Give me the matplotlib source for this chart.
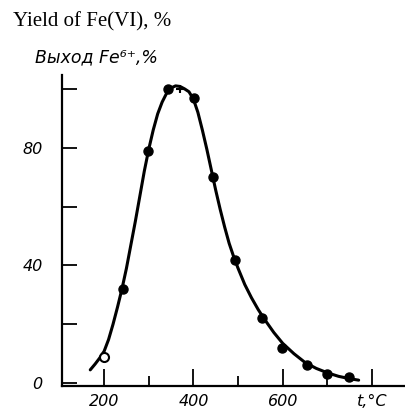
import matplotlib
matplotlib.use('Agg')
from matplotlib import pyplot as plt

# measured points (temperature, yield %)
t_filled = [242, 298, 343, 401, 444, 493, 554, 599, 654, 699, 748]
y_filled = [32, 79, 100, 97, 70, 42, 22, 12, 6, 3, 2]
t_open = [200]
y_open = [9]
t_cross = [370]
y_cross = [100]

# smooth curve
t_curve = [169, 180, 190, 200, 210, 220, 230, 240, 250, 260, 270, 280, 290,
           300, 310, 320, 330, 340, 350, 360, 370, 380, 390, 400, 410, 420,
           430, 440, 450, 460, 470, 480, 490, 500, 515, 530, 545, 560, 580,
           600, 625, 650, 675, 700, 725, 750, 770]
y_curve = [4.5, 6.5, 8.5, 10.8, 14.8, 20, 25.8, 32, 39, 47, 55, 63.5, 72,
           79.5, 86, 91.5, 95.5, 98.5, 100.3, 101, 100.8, 100, 99, 96.5, 92, 86,
           79.5, 72.5, 65.5, 59, 53, 47.5, 43, 39, 33.5, 29, 25, 21.5, 17.2,
           13.5, 10, 7, 5, 3.5, 2.3, 1.5, 1]

y_ticks = [0, 20, 40, 60, 80, 100]
y_labels = ['0', '', '40', '', '80', '']
x_major = [200, 400, 600, 800]
x_labels = ['200', '400', '600', 't,°C']
x_minor = [300, 500, 700]

fig = plt.figure(figsize=(4.06, 4.12), dpi=100)
ax = fig.add_axes([0.153, 0.063, 0.847, 0.755])

ax.plot(t_curve, y_curve, color='black', lw=2.2, solid_capstyle='round',
        solid_joinstyle='round')
ax.plot(t_filled, y_filled, 'o', color='black', ms=6.5)
ax.plot(t_open, y_open, 'o', mfc='white', mec='black', mew=1.5, ms=6.5)
ax.plot(t_cross, y_cross, '+', color='black', ms=6, mew=1.5)

ax.set_xlim(106, 876)
ax.set_ylim(-1, 104.7)

for s in ['top', 'right']:
    ax.spines[s].set_visible(False)
for s in ['left', 'bottom']:
    ax.spines[s].set_linewidth(1.6)

ax.set_yticks(y_ticks)
ax.set_yticklabels(y_labels, fontstyle='italic', fontsize=11.5)
ax.set_xticks(x_major)
ax.set_xticklabels(x_labels, fontstyle='italic', fontsize=11.5)
ax.set_xticks(x_minor, minor=True)
ax.tick_params(axis='y', direction='in', length=11, width=1.3, pad=14)
ax.tick_params(axis='x', which='major', direction='in', length=12, width=1.3, pad=6)
ax.tick_params(axis='x', which='minor', direction='in', length=7, width=1.3)

fig.text(0.032, 1 - 22 / 412, 'Yield of Fe(VI), %', family='Liberation Serif',
         fontsize=15, va='center', ha='left')
fig.text(0.086, 1 - 57 / 412, 'Выход Fe⁶⁺,%', fontstyle='italic',
         fontsize=12.5, va='center', ha='left')

fig.savefig('out.png', dpi=100)
